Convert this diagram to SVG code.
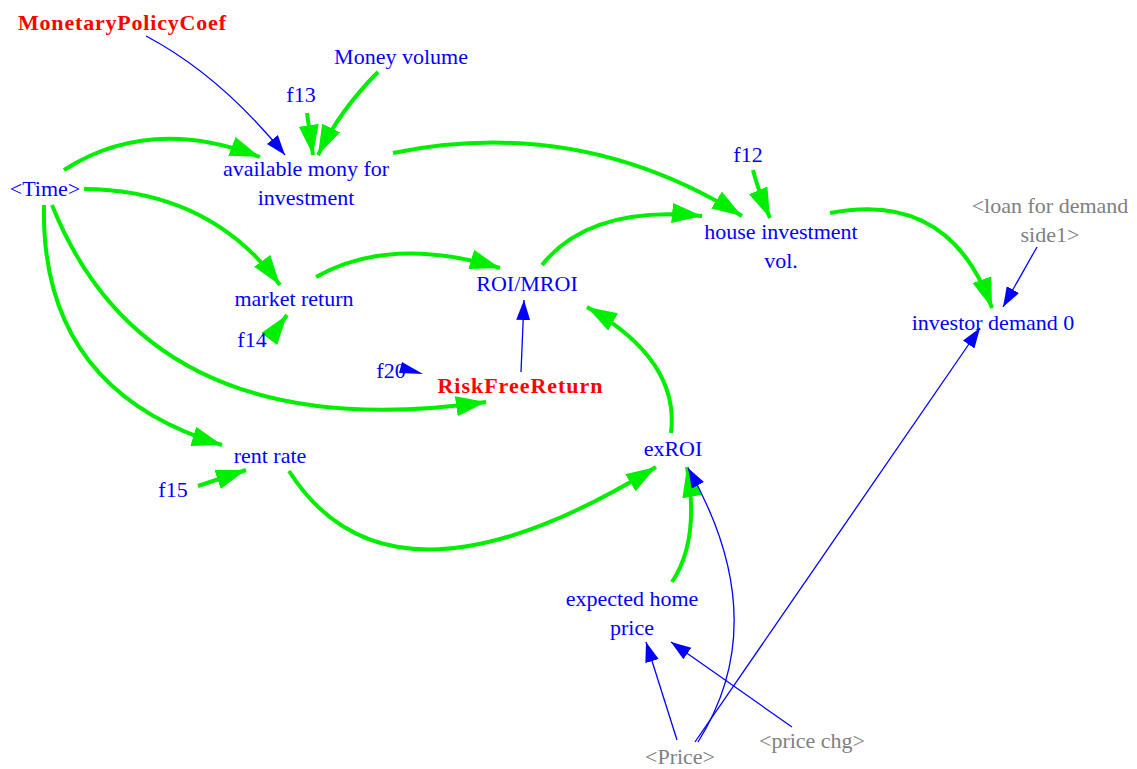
<svg xmlns="http://www.w3.org/2000/svg" width="1137" height="769" viewBox="0 0 1137 769">
<style>
text{font-family:"Liberation Serif","Times New Roman",serif;font-size:22px;text-anchor:middle}
.b{fill:#0000ff}
.r{fill:#ff0000;font-weight:bold}
.g{fill:#808080}
.gl{fill:none;stroke:#00ee00;stroke-width:4}
.bl{fill:none;stroke:#0000ff;stroke-width:1.3}
</style>
<defs>
<marker id="ga" markerUnits="userSpaceOnUse" markerWidth="32" markerHeight="22" refX="30" refY="10" orient="auto" viewBox="0 0 32 22"><path d="M0,0 L30,10 L0,20 z" fill="#00ee00"/></marker>
<marker id="ba" markerUnits="userSpaceOnUse" markerWidth="22" markerHeight="16" refX="20" refY="7" orient="auto" viewBox="0 0 22 16"><path d="M0,0 L20,7 L0,14 z" fill="#0000ff"/></marker>
</defs>
<g id="connectors">
<path class="gl" marker-end="url(#ga)" d="M64,170 Q150,115 260,157"/>
<path class="gl" marker-end="url(#ga)" d="M307,113 L313,155"/>
<path class="gl" marker-end="url(#ga)" d="M378,72 Q340,110 318,155"/>
<path class="bl" marker-end="url(#ba)" d="M146,36 Q220,75 285,155"/>
<path class="gl" marker-end="url(#ga)" d="M393,153 Q580,115 742,216"/>
<path class="gl" marker-end="url(#ga)" d="M753,170 Q758,190 770,218"/>
<path class="gl" marker-end="url(#ga)" d="M84,189 Q210,190 280,285"/>
<path class="gl" marker-end="url(#ga)" d="M316,277 Q390,235 500,268"/>
<path class="gl" marker-end="url(#ga)" d="M542,265 Q590,205 702,216"/>
<path class="gl" marker-end="url(#ga)" d="M830,213 Q950,190 992,308"/>
<path class="bl" marker-end="url(#ba)" d="M1037,247 L1003,307"/>
<path class="gl" marker-end="url(#ga)" d="M52,205 Q150,450 486,402"/>
<path class="gl" marker-end="url(#ga)" d="M44,205 Q40,390 222,445"/>
<path class="gl" marker-end="url(#ga)" d="M270,338 L287,315"/>
<path fill="#0000ff" d="M402,362 L423,374 L399,373 z"/>
<path class="bl" marker-end="url(#ba)" d="M521,372 L524,300"/>
<path class="gl" marker-end="url(#ga)" d="M671,433 Q680,360 587,307"/>
<path class="gl" marker-end="url(#ga)" d="M289,471 Q390,630 656,467"/>
<path class="gl" marker-end="url(#ga)" d="M198,486 L246,470"/>
<path class="gl" marker-end="url(#ga)" d="M672,582 Q700,540 687,467"/>
<path class="bl" marker-end="url(#ba)" d="M698,742 Q775,620 688,468"/>
<path class="bl" marker-end="url(#ba)" d="M695,742 L980,328"/>
<path class="bl" marker-end="url(#ba)" d="M677,740 L646,642"/>
<path class="bl" marker-end="url(#ba)" d="M792,727 L671,642"/>
</g>
<g id="MonetaryPolicyCoef"><text class="r" x="122" y="30" textLength="208" lengthAdjust="spacing">MonetaryPolicyCoef</text></g>
<g id="MoneyVolume"><text class="b" x="401" y="64">Money volume</text></g>
<g id="f13"><text class="b" x="301" y="102">f13</text></g>
<g id="availableMony"><text class="b" x="306" y="176">available mony for</text><text class="b" x="306" y="205">investment</text></g>
<g id="Time"><text class="b" x="45" y="196">&lt;Time&gt;</text></g>
<g id="f12"><text class="b" x="748" y="162">f12</text></g>
<g id="houseInvestment"><text class="b" x="781" y="239">house investment</text><text class="b" x="781" y="268">vol.</text></g>
<g id="loanForDemand"><text class="g" x="1050" y="213">&lt;loan for demand</text><text class="g" x="1050" y="242">side1&gt;</text></g>
<g id="investorDemand"><text class="b" x="993" y="330">investor demand 0</text></g>
<g id="marketReturn"><text class="b" x="294" y="306">market return</text></g>
<g id="f14"><text class="b" x="252" y="347">f14</text></g>
<g id="ROIMROI"><text class="b" x="527" y="291">ROI/MROI</text></g>
<g id="f20"><text class="b" x="391" y="378">f20</text></g>
<g id="RiskFreeReturn"><text class="r" x="520" y="393" textLength="165" lengthAdjust="spacing">RiskFreeReturn</text></g>
<g id="exROI"><text class="b" x="673" y="456">exROI</text></g>
<g id="rentRate"><text class="b" x="270" y="463">rent rate</text></g>
<g id="f15"><text class="b" x="173" y="497">f15</text></g>
<g id="expectedHomePrice"><text class="b" x="632" y="606">expected home</text><text class="b" x="632" y="635">price</text></g>
<g id="Price"><text class="g" x="680" y="764">&lt;Price&gt;</text></g>
<g id="priceChg"><text class="g" x="812" y="748">&lt;price chg&gt;</text></g>
</svg>
